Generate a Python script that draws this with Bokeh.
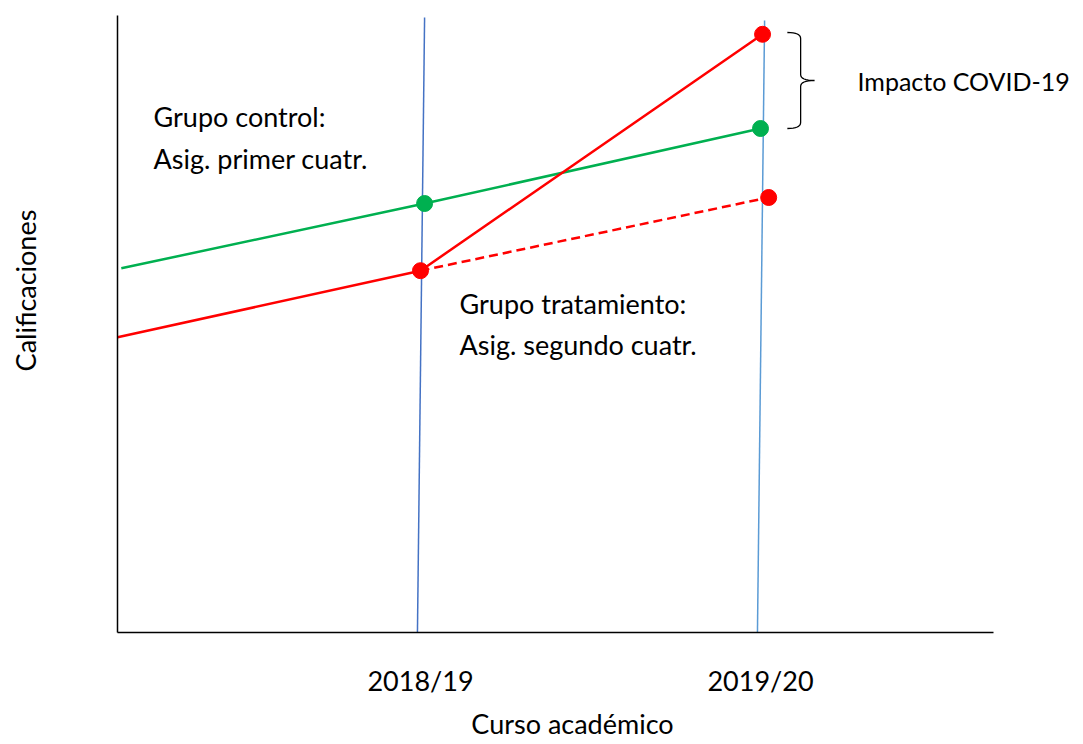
from bokeh.plotting import figure
from bokeh.models import FixedTicker, Label
from bokeh.embed import file_html
from bokeh.resources import INLINE

# ---- data ----
year_labels = {1: "2018/19", 2: "2019/20"}
year_ticks = [1, 2]

# control group (green): start of the line, 2018/19, 2019/20
control_x = [0.12, 1.012, 2.0]
control_y = [6.07, 7.15, 8.4]

# treated group (red): start of the line, 2018/19, 2019/20
treat_x = [0.109, 1.0, 2.006]
treat_y = [4.92, 6.03, 9.97]

# counterfactual of the treated group (dashed)
cf_x = [1.0, 2.024]
cf_y = [6.03, 7.25]

# vertical reference lines at the two academic years (slightly slanted)
vline_x0 = [0.991, 1.991]
vline_x1 = [1.012, 2.012]
vline_y0 = [0.0, 0.0]
vline_y1 = [10.25, 10.2]
vline_colors = ["#4472C4", "#5B9BD5"]

# axis extents
x_axis_bounds = (0.1088, 2.685)
y_axis_bounds = (0.0, 10.283)

FONT = "Lato"
FS = "27px"

W, H = 1083, 744
p = figure(width=W, height=H,
           x_range=(0.1088 - 117 / 340, 0.1088 + (W - 117) / 340),
           y_range=(-(H - 632) / 60, 632 / 60),
           output_backend="svg", toolbar_location=None,
           min_border_left=0, min_border_right=0, min_border_top=0,
           min_border_bottom=0)
p.grid.visible = False
p.outline_line_color = None
p.background_fill_color = "white"

# axes drawn at fixed data locations
p.xaxis.fixed_location = 0
p.xaxis.bounds = x_axis_bounds
p.xaxis.ticker = FixedTicker(ticks=year_ticks)
p.xaxis.major_label_overrides = year_labels
p.xaxis.major_tick_in = 0
p.xaxis.major_tick_out = 0
p.xaxis.minor_tick_line_color = None
p.xaxis.major_tick_line_color = None
p.xaxis.axis_line_color = "#000000"
p.xaxis.axis_line_width = 1.5
p.xaxis.major_label_text_font = FONT
p.xaxis.major_label_text_font_size = FS
p.xaxis.major_label_text_color = "#000000"
p.xaxis.major_label_standoff = 31

p.yaxis.fixed_location = x_axis_bounds[0]
p.yaxis.bounds = y_axis_bounds
p.yaxis.ticker = FixedTicker(ticks=[])
p.yaxis.major_tick_line_color = None
p.yaxis.minor_tick_line_color = None
p.yaxis.axis_line_color = "#000000"
p.yaxis.axis_line_width = 1.5

# vertical year lines
p.segment(x0=vline_x0, y0=vline_y0, x1=vline_x1, y1=vline_y1,
          line_color=vline_colors, line_width=1.5)

# series
p.line(control_x, control_y, line_color="#00B050", line_width=2.5)
p.line(treat_x, treat_y, line_color="#FF0000", line_width=2.5)
p.line(cf_x, cf_y, line_color="#FF0000", line_width=2.5, line_dash="9 5")

p.scatter(control_x[1:], control_y[1:], size=16, color="#00B050")
p.scatter(treat_x[1:], treat_y[1:], size=16, color="#FF0000")
p.scatter(cf_x[1:], cf_y[1:], size=16, color="#FF0000")

# brace between treated and control at 2019/20
def quad(p0, c, p1, n=8):
    pts = []
    for i in range(n + 1):
        t = i / n
        x = (1 - t) ** 2 * p0[0] + 2 * (1 - t) * t * c[0] + t ** 2 * p1[0]
        y = (1 - t) ** 2 * p0[1] + 2 * (1 - t) * t * c[1] + t ** 2 * p1[1]
        pts.append((x, y))
    return pts

yt = treat_y[2] + 0.03
yb = control_y[2]
ym = (yt + yb) / 2
xl, xs, xt = 2.079, 2.118, 2.159
r = 0.1
pts = []
pts += quad((xl, yt), (xs, yt), (xs, yt - r))
pts += quad((xs, ym + r), (xs, ym), (xt, ym))
pts += quad((xt, ym), (xs, ym), (xs, ym - r))
pts += quad((xs, yb + r), (xs, yb), (xl, yb))
p.line([q[0] for q in pts], [q[1] for q in pts], line_color="#000000", line_width=1.3)

# texts
def lab(x, y, text, align="left", angle=0.0, size=FS):
    p.add_layout(Label(x=x, y=y, text=text, text_font=FONT, text_font_size=size,
                       text_color="#000000", text_align=align,
                       text_baseline="middle", angle=angle))

lab(0.2147, 8.6, "Grupo control:")
lab(0.2147, 7.9, "Asig. primer cuatr.")
lab(1.1147, 5.49, "Grupo tratamiento:")
lab(1.1147, 4.8, "Asig. segundo cuatr.")
lab(2.2853, 9.19, "Impacto COVID-19", size="25px")
lab(1.447, -1.52, "Curso académico", align="center")
lab(-0.1618, 5.7, "Calificaciones", align="center", angle=1.5707963)

open("out.html", "w").write(file_html(p, INLINE))
